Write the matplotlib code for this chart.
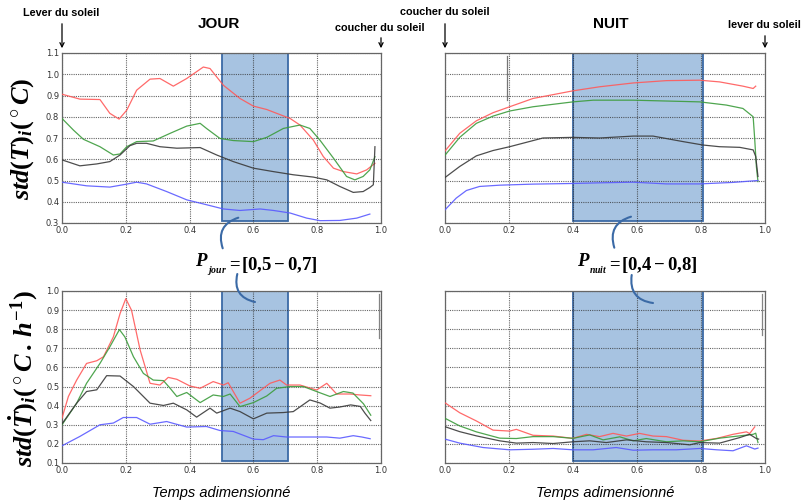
import matplotlib
matplotlib.use("Agg")
import matplotlib.pyplot as plt
from matplotlib.patches import Rectangle, FancyArrowPatch
from matplotlib.text import Annotation

plt.rcParams['mathtext.fontset'] = 'custom'
plt.rcParams['mathtext.rm'] = 'Liberation Serif:bold'
plt.rcParams['mathtext.it'] = 'Liberation Serif:italic:bold'
plt.rcParams['mathtext.bf'] = 'Liberation Serif:bold'

# ---------------- data ----------------
# Top-left: std(T) day
tl_red_x = [0, 0.056, 0.119, 0.15, 0.179, 0.203, 0.234, 0.276, 0.307, 0.349, 0.391, 0.443, 0.464, 0.506,
            0.558, 0.6, 0.642, 0.673, 0.715, 0.746, 0.788, 0.819, 0.851, 0.882, 0.924, 0.955, 0.981]
tl_red_y = [0.906, 0.883, 0.881, 0.816, 0.789, 0.831, 0.925, 0.977, 0.98, 0.944, 0.98, 1.034, 1.027, 0.948,
            0.886, 0.85, 0.834, 0.816, 0.792, 0.761, 0.69, 0.613, 0.558, 0.542, 0.531, 0.55, 0.581]
tl_green_x = [0, 0.036, 0.067, 0.119, 0.161, 0.182, 0.203, 0.234, 0.286, 0.339, 0.391, 0.433, 0.453, 0.495,
              0.537, 0.6, 0.642, 0.694, 0.746, 0.777, 0.808, 0.851, 0.892, 0.918, 0.944, 0.965, 0.981]
tl_green_y = [0.792, 0.737, 0.694, 0.659, 0.62, 0.625, 0.659, 0.683, 0.686, 0.722, 0.756, 0.769, 0.745, 0.698,
              0.688, 0.683, 0.703, 0.745, 0.761, 0.745, 0.691, 0.605, 0.519, 0.503, 0.519, 0.55, 0.612]
tl_black_x = [0, 0.056, 0.109, 0.15, 0.182, 0.213, 0.234, 0.265, 0.307, 0.36, 0.433, 0.485, 0.537, 0.6,
              0.662, 0.725, 0.788, 0.83, 0.871, 0.913, 0.944, 0.965, 0.976, 0.981]
tl_black_y = [0.597, 0.569, 0.578, 0.589, 0.62, 0.664, 0.675, 0.675, 0.659, 0.652, 0.655, 0.62, 0.589, 0.558,
              0.542, 0.527, 0.516, 0.503, 0.472, 0.444, 0.448, 0.467, 0.48, 0.659]
tl_blue_x = [0, 0.077, 0.15, 0.203, 0.234, 0.265, 0.328, 0.391, 0.453, 0.506, 0.558, 0.621, 0.663, 0.715,
             0.767, 0.809, 0.871, 0.924, 0.965]
tl_blue_y = [0.492, 0.475, 0.469, 0.483, 0.492, 0.484, 0.448, 0.409, 0.386, 0.366, 0.359, 0.366, 0.359, 0.347,
             0.323, 0.311, 0.312, 0.323, 0.342]

# Top-right: std(T) night
tr_red_x = [0, 0.046, 0.098, 0.15, 0.202, 0.275, 0.4, 0.483, 0.588, 0.692, 0.796, 0.858, 0.931, 0.963, 0.971]
tr_red_y = [0.639, 0.722, 0.781, 0.819, 0.847, 0.886, 0.922, 0.941, 0.959, 0.97, 0.972, 0.964, 0.944, 0.933, 0.944]
tr_green_x = [0, 0.046, 0.098, 0.15, 0.202, 0.275, 0.4, 0.463, 0.588, 0.796, 0.879, 0.931, 0.963, 0.968,
              0.973, 0.978]
tr_green_y = [0.619, 0.703, 0.769, 0.803, 0.827, 0.847, 0.87, 0.878, 0.878, 0.87, 0.855, 0.839, 0.8, 0.691,
              0.566, 0.495]
tr_black_x = [0, 0.046, 0.098, 0.15, 0.202, 0.306, 0.4, 0.483, 0.588, 0.65, 0.744, 0.806, 0.858, 0.921,
              0.963, 0.971, 0.978]
tr_black_y = [0.514, 0.566, 0.616, 0.641, 0.659, 0.7, 0.703, 0.7, 0.709, 0.709, 0.683, 0.667, 0.659, 0.656,
              0.644, 0.613, 0.519]
tr_blue_x = [0, 0.035, 0.067, 0.108, 0.171, 0.275, 0.4, 0.483, 0.588, 0.692, 0.796, 0.9, 0.978]
tr_blue_y = [0.362, 0.417, 0.453, 0.472, 0.478, 0.483, 0.486, 0.489, 0.492, 0.484, 0.484, 0.491, 0.5]
tr_mark_x = [0.194, 0.194]
tr_mark_y = [1.084, 0.878]

# Bottom-left: std(dT/dt) day
bl_red_x = [0, 0.02, 0.046, 0.077, 0.109, 0.13, 0.161, 0.182, 0.2, 0.218, 0.245, 0.276, 0.307, 0.333,
            0.36, 0.401, 0.433, 0.474, 0.506, 0.521, 0.558, 0.589, 0.631, 0.652, 0.683, 0.704, 0.746,
            0.798, 0.83, 0.861, 0.903, 0.934, 0.968]
bl_red_y = [0.335, 0.448, 0.534, 0.621, 0.635, 0.656, 0.76, 0.882, 0.96, 0.899, 0.691, 0.517, 0.508, 0.548,
            0.538, 0.503, 0.491, 0.526, 0.508, 0.52, 0.413, 0.439, 0.491, 0.517, 0.534, 0.508, 0.508,
            0.482, 0.517, 0.461, 0.461, 0.456, 0.452]
bl_green_x = [0, 0.046, 0.077, 0.119, 0.15, 0.18, 0.197, 0.224, 0.255, 0.286, 0.318, 0.339, 0.36, 0.391,
              0.433, 0.474, 0.506, 0.527, 0.558, 0.6, 0.642, 0.673, 0.715, 0.757, 0.798, 0.84, 0.882,
              0.912, 0.945, 0.968]
bl_green_y = [0.3, 0.413, 0.517, 0.621, 0.708, 0.798, 0.76, 0.656, 0.569, 0.534, 0.531, 0.491, 0.448, 0.469,
              0.416, 0.456, 0.448, 0.461, 0.395, 0.416, 0.451, 0.491, 0.5, 0.5, 0.474, 0.448, 0.474,
              0.466, 0.41, 0.35]
bl_black_x = [0, 0.046, 0.077, 0.109, 0.14, 0.182, 0.224, 0.276, 0.318, 0.349, 0.391, 0.422, 0.464, 0.485,
              0.527, 0.558, 0.6, 0.642, 0.694, 0.725, 0.777, 0.809, 0.84, 0.871, 0.905, 0.935, 0.95, 0.968]
bl_black_y = [0.305, 0.413, 0.474, 0.483, 0.557, 0.555, 0.5, 0.413, 0.401, 0.413, 0.378, 0.34, 0.387, 0.361,
              0.387, 0.369, 0.331, 0.361, 0.364, 0.369, 0.43, 0.414, 0.387, 0.393, 0.404, 0.396, 0.36, 0.322]
bl_blue_x = [0, 0.056, 0.119, 0.161, 0.192, 0.234, 0.276, 0.328, 0.391, 0.453, 0.495, 0.537, 0.6, 0.631,
             0.663, 0.704, 0.767, 0.83, 0.871, 0.913, 0.94, 0.966]
bl_blue_y = [0.19, 0.239, 0.3, 0.309, 0.338, 0.338, 0.303, 0.317, 0.288, 0.291, 0.27, 0.265, 0.225, 0.222,
             0.243, 0.236, 0.236, 0.236, 0.23, 0.243, 0.236, 0.227]
bl_mark_x = [0.995, 0.995]
bl_mark_y = [0.985, 0.755]

# Bottom-right: std(dT/dt) night
br_red_x = [0, 0.046, 0.098, 0.15, 0.202, 0.223, 0.275, 0.338, 0.4, 0.442, 0.483, 0.525, 0.567, 0.608,
            0.65, 0.692, 0.744, 0.796, 0.85, 0.9, 0.942, 0.952, 0.968]
br_red_y = [0.415, 0.363, 0.32, 0.272, 0.267, 0.276, 0.245, 0.241, 0.229, 0.25, 0.238, 0.255, 0.241, 0.255,
            0.241, 0.238, 0.219, 0.215, 0.229, 0.25, 0.263, 0.254, 0.289]
br_green_x = [0, 0.046, 0.098, 0.171, 0.223, 0.275, 0.338, 0.4, 0.452, 0.494, 0.546, 0.588, 0.629, 0.692,
              0.744, 0.796, 0.858, 0.921, 0.963, 0.971, 0.978]
br_green_y = [0.334, 0.294, 0.263, 0.23, 0.228, 0.238, 0.238, 0.229, 0.247, 0.221, 0.237, 0.216, 0.228, 0.211,
              0.216, 0.211, 0.23, 0.242, 0.25, 0.256, 0.207]
br_black_x = [0, 0.046, 0.098, 0.171, 0.223, 0.275, 0.338, 0.4, 0.452, 0.504, 0.567, 0.629, 0.692, 0.765,
              0.796, 0.858, 0.921, 0.952, 0.973, 0.98]
br_black_y = [0.29, 0.264, 0.242, 0.216, 0.204, 0.207, 0.202, 0.211, 0.216, 0.207, 0.221, 0.211, 0.207, 0.195,
              0.207, 0.204, 0.233, 0.25, 0.228, 0.225]
br_blue_x = [0, 0.046, 0.119, 0.202, 0.275, 0.338, 0.4, 0.463, 0.535, 0.588, 0.65, 0.723, 0.796, 0.85,
             0.9, 0.942, 0.968, 0.978]
br_blue_y = [0.225, 0.204, 0.181, 0.169, 0.172, 0.176, 0.169, 0.169, 0.181, 0.167, 0.169, 0.169, 0.176, 0.169,
             0.164, 0.19, 0.173, 0.178]
br_mark_x = [0.992, 0.992]
br_mark_y = [0.985, 0.77]

x_ticks = [0.0, 0.2, 0.4, 0.6, 0.8, 1.0]
top_yticks = [0.3, 0.4, 0.5, 0.6, 0.7, 0.8, 0.9, 1.0, 1.1]
bot_yticks = [0.1, 0.2, 0.3, 0.4, 0.5, 0.6, 0.7, 0.8, 0.9, 1.0]
day_window = [0.5, 0.71]
night_window = [0.4, 0.805]

# ---------------- style ----------------
C_RED = '#ff5a5a'
C_GREEN = '#3c9c3c'
C_BLACK = '#3a3a3a'
C_BLUE = '#5a5aff'
FILL = '#a7c3e1'
EDGE = '#3b6aa6'

fig = plt.figure(figsize=(8.02, 5.01), dpi=100)
W, H = 802.0, 501.0


def ax_at(x0, y0, x1, y1):
    return fig.add_axes([x0 / W, 1 - y1 / H, (x1 - x0) / W, (y1 - y0) / H])


ax_tl = ax_at(62, 53, 381, 223)
ax_tr = ax_at(445, 53, 765, 223)
ax_bl = ax_at(62, 291, 381, 463)
ax_br = ax_at(445, 291, 765, 463)


def style(ax, yticks, ylab, window, ylim):
    ax.set_xlim(0, 1)
    ax.set_ylim(*ylim)
    ax.set_xticks(x_ticks)
    ax.set_yticks(yticks)
    ax.set_xticklabels([f"{v:.1f}" for v in x_ticks])
    if ylab:
        ax.set_yticklabels([f"{v:.1f}" for v in yticks])
    else:
        ax.set_yticklabels([])
    ax.tick_params(length=0, labelsize=6, colors='#333333', pad=2)
    ax.grid(True, linestyle=(0, (1, 1)), color='#333333', linewidth=0.8, alpha=0.75)
    for s in ax.spines.values():
        s.set_color('#666666')
        s.set_linewidth(0.9)
    ax.add_patch(Rectangle((window[0], ylim[0] + 0.01), window[1] - window[0], ylim[1] - ylim[0] - 0.01,
                           facecolor=FILL, edgecolor=EDGE, linewidth=1.3, zorder=1.5))


style(ax_tl, top_yticks, True, day_window, (0.3, 1.1))
style(ax_tr, top_yticks, False, night_window, (0.3, 1.1))
style(ax_bl, bot_yticks, True, day_window, (0.1, 1.0))
style(ax_br, bot_yticks, False, night_window, (0.1, 1.0))

lw = 0.9
for ax, series in [
    (ax_tl, [(tl_red_x, tl_red_y, C_RED), (tl_green_x, tl_green_y, C_GREEN),
             (tl_black_x, tl_black_y, C_BLACK), (tl_blue_x, tl_blue_y, C_BLUE)]),
    (ax_tr, [(tr_red_x, tr_red_y, C_RED), (tr_green_x, tr_green_y, C_GREEN),
             (tr_black_x, tr_black_y, C_BLACK), (tr_blue_x, tr_blue_y, C_BLUE),
             (tr_mark_x, tr_mark_y, '#666666')]),
    (ax_bl, [(bl_red_x, bl_red_y, C_RED), (bl_green_x, bl_green_y, C_GREEN),
             (bl_black_x, bl_black_y, C_BLACK), (bl_blue_x, bl_blue_y, C_BLUE),
             (bl_mark_x, bl_mark_y, '#777777')]),
    (ax_br, [(br_red_x, br_red_y, C_RED), (br_green_x, br_green_y, C_GREEN),
             (br_black_x, br_black_y, C_BLACK), (br_blue_x, br_blue_y, C_BLUE),
             (br_mark_x, br_mark_y, '#777777')]),
]:
    for xs, ys, c in series:
        ax.plot(xs, ys, color=c, linewidth=lw, zorder=3, alpha=0.9)

# ---------------- texts ----------------
def fx(px):
    return px / W


def fy(py):
    return 1 - py / H


fig.text(fx(219), fy(24), 'JOUR', ha='center', va='center', fontsize=11, fontweight='bold',
         family='Liberation Sans')
fig.text(fx(611), fy(24), 'NUIT', ha='center', va='center', fontsize=11, fontweight='bold',
         family='Liberation Sans')

fig.text(fx(221), fy(493), 'Temps adimensionné', ha='center', va='center', fontsize=10.5,
         style='italic', family='Liberation Sans')
fig.text(fx(605), fy(493), 'Temps adimensionné', ha='center', va='center', fontsize=10.5,
         style='italic', family='Liberation Sans')

fig.text(fx(23), fy(139), r'$std(T)_i(^\circ C)$', rotation=90, ha='center', va='center', fontsize=19)
fig.text(fx(23), fy(379), r'$std(\dot{T})_i(^\circ C\,.\,h^{-1})$', rotation=90, ha='center',
         va='center', fontsize=19)


def period_label(x_left, sub, rng):
    t1 = fig.text(fx(x_left), fy(266), r'$P$', ha='left', va='baseline', fontsize=13.5)
    a2 = fig.add_artist(Annotation(r'$' + sub + r'$', xy=(1.0, 0.0), xycoords=t1,
                                   xytext=(-1.5, -2.0), textcoords='offset points',
                                   ha='left', va='baseline', fontsize=7))
    fig.add_artist(Annotation(r'$=\![' + rng + r']$', xy=(1.0, 0.0), xycoords=(a2, t1),
                              xytext=(0.3, 0), textcoords='offset points',
                              ha='left', va='baseline', fontsize=13.5))


period_label(195, 'jour', r'0{,}5-0{,}7')
period_label(577, 'nuit', r'0{,}4-0{,}8')

# sun annotations
sun_font = dict(fontsize=7.8, fontweight='bold', family='Liberation Sans')
fig.text(fx(61), fy(13), 'Lever du soleil', ha='center', va='center', **sun_font)
fig.text(fx(380), fy(28), 'coucher du soleil', ha='center', va='center', **sun_font)
fig.text(fx(445), fy(12), 'coucher du soleil', ha='center', va='center', **sun_font)
fig.text(fx(764), fy(25), 'lever du soleil', ha='center', va='center', **sun_font)

for x, y0 in [(62, 21), (381, 35), (445, 21), (765, 33)]:
    fig.add_artist(FancyArrowPatch((fx(x), fy(y0)), (fx(x), fy(51)), transform=fig.transFigure,
                                   arrowstyle='->,head_length=3,head_width=1.5', color='black',
                                   linewidth=0.9, mutation_scale=1))

# curved connectors
curves = [((222.7, 248.3), (238.3, 217.7), -0.5), ((237.3, 274), (255, 302), 0.5),
          ((614.3, 247.7), (631, 216.7), -0.5), ((631.7, 275), (653, 303), 0.5)]
for (a, b, rad) in curves:
    fig.add_artist(FancyArrowPatch((fx(a[0]), fy(a[1])), (fx(b[0]), fy(b[1])), transform=fig.transFigure,
                                   arrowstyle='-', connectionstyle=f'arc3,rad={rad}', color=EDGE,
                                   linewidth=1.5, shrinkA=0, shrinkB=0))

fig.savefig('out.png', dpi=100)
